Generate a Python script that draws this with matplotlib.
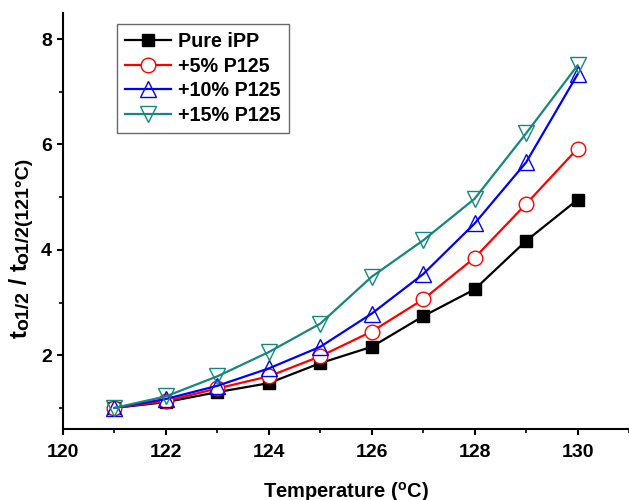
import matplotlib
matplotlib.use("Agg")
import matplotlib.pyplot as plt
from matplotlib.ticker import MultipleLocator

plt.rcParams['font.family'] = ['Liberation Sans', 'DejaVu Sans']
plt.rcParams['font.weight'] = 'bold'
plt.rcParams['mathtext.fontset'] = 'custom'
plt.rcParams['mathtext.rm'] = 'Liberation Sans:bold'
plt.rcParams['mathtext.it'] = 'Liberation Sans:bold'
plt.rcParams['mathtext.bf'] = 'Liberation Sans:bold'
plt.rcParams['mathtext.default'] = 'regular'

temperature = [121, 122, 123, 124, 125, 126, 127, 128, 129, 130]
pure_ipp = [1.0, 1.11, 1.30, 1.47, 1.85, 2.16, 2.74, 3.25, 4.17, 4.95]
p125_5 = [1.0, 1.13, 1.37, 1.60, 1.98, 2.45, 3.06, 3.85, 4.87, 5.92]
p125_10 = [1.0, 1.17, 1.42, 1.75, 2.16, 2.79, 3.54, 4.50, 5.66, 7.33]
p125_15 = [1.0, 1.22, 1.60, 2.06, 2.60, 3.49, 4.18, 4.97, 6.21, 7.50]
labels = ['Pure iPP', '+5% P125', '+10% P125', '+15% P125']

# y-axis label pieces: (text, is_subscript)
ylabel_parts = [('t', False), ('o1/2', True), (' / ', False), ('t', False),
                ('o1/2(121°C)', True)]

fig = plt.figure(figsize=(6.29, 5.0), dpi=100)
ax = fig.add_axes([0.1002, 0.142, 0.8998, 0.8326])

teal = '#15877f'
ax.plot(temperature, pure_ipp, color='black', lw=1.6, marker='s', ms=8.5,
        mfc='black', mec='black', label=labels[0])
ax.plot(temperature, p125_5, color='red', lw=1.6, marker='o', ms=10.5,
        mfc='white', mec='red', mew=1.0, label=labels[1])
ax.plot(temperature, p125_10, color='blue', lw=1.6, marker='^', ms=11,
        mfc='none', mec='blue', mew=1.0, label=labels[2])
ax.plot(temperature, p125_15, color=teal, lw=1.6, marker='v', ms=11,
        mfc='none', mec=teal, mew=1.0, label=labels[3])

ax.set_xlim(120, 131)
ax.set_ylim(0.6, 8.5)
ax.xaxis.set_major_locator(MultipleLocator(2))
ax.xaxis.set_minor_locator(MultipleLocator(1))
ax.yaxis.set_major_locator(MultipleLocator(2))
ax.yaxis.set_minor_locator(MultipleLocator(1))

for s in ['top', 'right']:
    ax.spines[s].set_visible(False)
for s in ['left', 'bottom']:
    ax.spines[s].set_linewidth(1.5)

ax.tick_params(which='major', direction='out', length=4.5, width=1.5,
               labelsize=14)
ax.tick_params(axis='x', which='major', pad=6.5)
ax.tick_params(axis='y', which='major', pad=3.5)
ax.tick_params(which='minor', direction='out', length=3, width=1.2)
for lab in ax.get_xticklabels() + ax.get_yticklabels():
    lab.set_fontweight('bold')

ax.set_xlabel('Temperature ($^{o}$C)', fontsize=14.5, fontweight='bold', va='top')
ax.xaxis.set_label_coords(0.5, -0.123)

# y label assembled from rotated pieces along a common baseline
renderer = fig.canvas.get_renderer()
W, H = fig.bbox.width, fig.bbox.height
base_x = 27.0
pos_y = 338.0
for txt, sub in ylabel_parts:
    size = 14 if sub else 17
    shift = 1.5 if sub else 0.0
    t = fig.text((base_x + shift) / W, 1 - pos_y / H, txt, rotation=90,
                 rotation_mode='anchor', ha='left', va='baseline',
                 fontsize=size, fontweight='bold')
    pos_y -= t.get_window_extent(renderer).height

leg = ax.legend(loc='upper left', bbox_to_anchor=(0.0954, 0.973), borderaxespad=0,
                frameon=True, fancybox=False, edgecolor='#444444',
                handlelength=2.35, handletextpad=0.35, borderpad=0.4,
                labelspacing=0.29, prop={'weight': 'bold', 'size': 14.2})
leg.get_frame().set_linewidth(1.0)

fig.savefig('out.png', dpi=100)
